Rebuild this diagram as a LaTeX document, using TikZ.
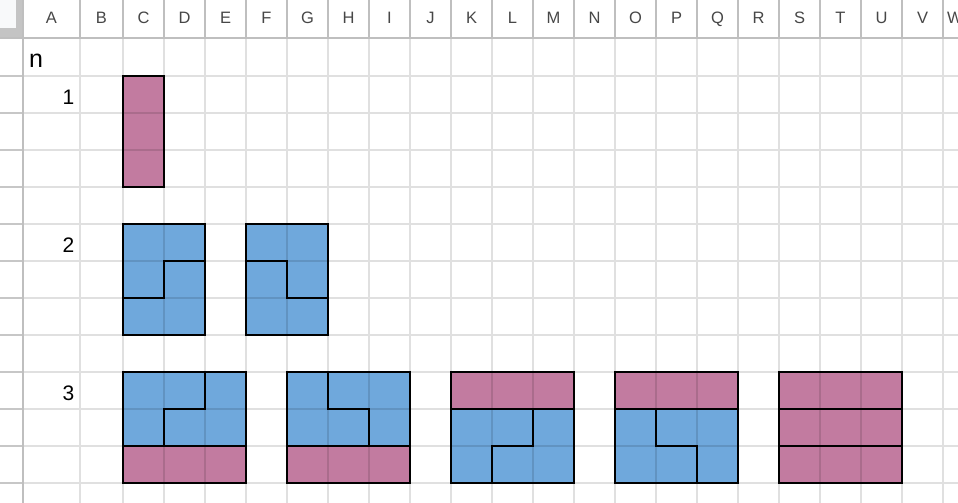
\documentclass[tikz,border=0pt]{standalone}
\usepackage{fontspec}
\setmainfont{Liberation Sans}
\definecolor{tilepink}{HTML}{C27BA0}
\definecolor{tileblue}{HTML}{6FA8DC}
\definecolor{cornerlight}{HTML}{F8F9FA}
\tikzset{
  gridline/.style={black,opacity=0.12,line width=1.3pt},
  headline/.style={draw=black!25,line width=2pt},
  rowline/.style={draw=black!22,line width=1.3pt},
  outline/.style={line width=2.8pt,line join=miter},
  pinktile/.style={fill=tilepink},
  bluetile/.style={fill=tileblue},
  colname/.style={anchor=base,inner sep=0pt,text=black!72,font=\fontsize{16.5}{16.5}\selectfont},
  rowval/.style={anchor=base east,inner sep=0pt,font=\fontsize{21}{21}\selectfont}
}
\def\cw{41}
\def\rh{37}

\begin{document}
\begin{tikzpicture}[x=1pt,y=-1pt]
  \useasboundingbox (0,0) rectangle (958,503);
  \fill[white] (0,0) rectangle (958,503);

  % Tiles (one unit = one cell, C1 at the origin)
  \begin{scope}[shift={(123pt,-39pt)},x=\cw pt,y=-\rh pt]
    \fill[pinktile] (0,1) rectangle (1,4);
    \fill[bluetile] (0,5) rectangle (2,8);
    \fill[bluetile] (3,5) rectangle (5,8);
    \fill[bluetile] (0,9) rectangle (3,11);
    \fill[pinktile] (0,11) rectangle (3,12);
    \fill[bluetile] (4,9) rectangle (7,11);
    \fill[pinktile] (4,11) rectangle (7,12);
    \fill[pinktile] (8,9) rectangle (11,10);
    \fill[bluetile] (8,10) rectangle (11,12);
    \fill[pinktile] (12,9) rectangle (15,10);
    \fill[bluetile] (12,10) rectangle (15,12);
    \fill[pinktile] (16,9) rectangle (19,12);
  \end{scope}

  % Cell grid
  \draw[gridline]
    \foreach \x in {80,123,164,...,943} {(\x,39) -- (\x,503)}
    \foreach \y in {76,113,...,483} {(23,\y) -- (958,\y)};

  % Outlines
  \begin{scope}[shift={(123pt,-39pt)},x=\cw pt,y=-\rh pt]
    \draw[outline] (0,1) rectangle (1,4);
    % n = 2
    \draw[outline] (0,5) rectangle (2,8);
    \draw[outline] (0,7) -- (1,7) -- (1,6) -- (2,6);
    \draw[outline] (3,5) rectangle (5,8);
    \draw[outline] (3,6) -- (4,6) -- (4,7) -- (5,7);
    % n = 3
    \draw[outline] (0,9) rectangle (3,12) (0,11) -- (3,11);
    \draw[outline] (1,11) -- (1,10) -- (2,10) -- (2,9);
    \draw[outline] (4,9) rectangle (7,12) (4,11) -- (7,11);
    \draw[outline] (5,9) -- (5,10) -- (6,10) -- (6,11);
    \draw[outline] (8,9) rectangle (11,12) (8,10) -- (11,10);
    \draw[outline] (10,10) -- (10,11) -- (9,11) -- (9,12);
    \draw[outline] (12,9) rectangle (15,12) (12,10) -- (15,10);
    \draw[outline] (13,10) -- (13,11) -- (14,11) -- (14,12);
    \draw[outline] (16,9) rectangle (19,12) (16,10) -- (19,10) (16,11) -- (19,11);
  \end{scope}

  % Column headers
  \fill[white] (23,0) rectangle (958,38);
  \draw[headline,line width=1.6pt] \foreach \x in {80,123,164,...,943} {(\x,0) -- (\x,38)};
  \node[colname] (colA) at (51.5,24) {A};
  \node[colname] (colB) at (101.5,24) {B};
  \foreach \l [count=\i from 0] in {C,D,E,F,G,H,I,J,K,L,M,N,O,P,Q,R,S,T,U,V}
    \node[colname] (col\l) at ({143.5+\cw*\i},24) {\l};
  \node[colname,anchor=base west] (colW) at (947,24) {W};
  \draw[headline] (0,38.5) -- (958,38.5);

  % Row headers
  \draw[rowline] \foreach \y in {76,113,...,483} {(0,\y) -- (23,\y)};
  \draw[headline] (23,0) -- (23,503);
  \fill[black!23] (0,0) rectangle (22,37.5);
  \fill[cornerlight] (0,0) rectangle (16,28);

  % Column A
  \node[rowval,anchor=base west,font=\fontsize{25}{25}\selectfont] (nlabel) at (29,67) {n};
  \node[rowval] (n1) at (74.5,104) {1};
  \node[rowval] (n2) at (74.5,252) {2};
  \node[rowval] (n3) at (74.5,400) {3};
\end{tikzpicture}
\end{document}
